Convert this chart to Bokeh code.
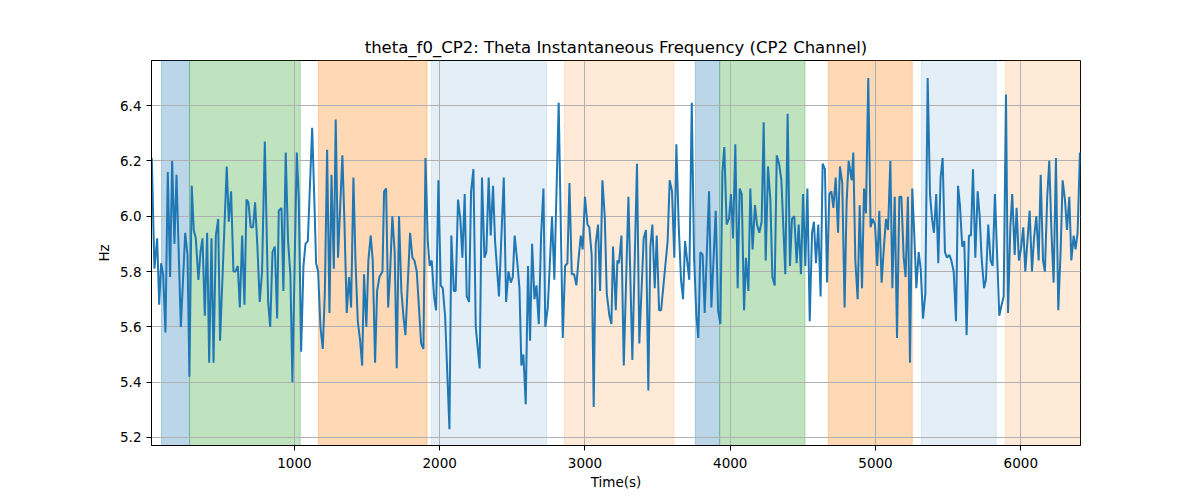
from bokeh.plotting import figure
from bokeh.models import Range1d, FixedTicker, PrintfTickFormatter, BoxAnnotation
from bokeh.embed import file_html
from bokeh.resources import INLINE

# ---- data -----------------------------------------------------------
time_s = [
    18, 36, 55, 69, 82, 96, 112, 128, 144, 158, 174, 188, 218, 248, 264, 277, 293, 307, 321, 339,
    353, 367, 383, 399, 413, 429, 443, 459, 475, 488, 534, 548, 564, 580, 594, 610, 624, 640, 656, 670,
    683, 699, 715, 729, 745, 761, 777, 796,
    819, 833, 849, 865, 881, 892, 911, 924, 940, 956, 972, 986, 1016, 1030, 1046, 1062, 1076, 1092,
    1122, 1138, 1149, 1163, 1179, 1195, 1209, 1225, 1241, 1255, 1271, 1284, 1300, 1330, 1344, 1360,
    1376, 1390, 1406, 1420, 1436, 1452, 1466, 1479, 1495, 1509, 1525, 1539, 1555, 1569, 1585, 1606,
    1617, 1631, 1645, 1658, 1674, 1690, 1704, 1720, 1736, 1750, 1764, 1796, 1812, 1826, 1842, 1872,
    1888, 1902, 1918, 1931, 1945, 1961, 1975, 1991, 2007, 2021, 2037, 2067, 2080, 2097, 2110, 2126,
    2142, 2156, 2172, 2186, 2202, 2216, 2232, 2248, 2275, 2291, 2308, 2321, 2337, 2351, 2367, 2381, 2408,
    2441, 2457, 2473, 2489, 2503, 2516, 2533, 2549, 2562, 2576, 2592, 2608, 2622, 2636, 2652, 2666,
    2682, 2698, 2714, 2727, 2744, 2773, 2789, 2819, 2847, 2863, 2879, 2893, 2909, 2925, 2941, 2955,
    2971, 2984, 3000, 3017, 3030, 3046, 3060, 3074, 3090, 3104, 3120, 3136, 3150, 3168, 3182, 3193, 3212,
    3223, 3234, 3251, 3267, 3299, 3326, 3358, 3374, 3404, 3420, 3436, 3450, 3464, 3480, 3494, 3510,
    3524, 3569, 3583, 3599, 3615, 3629, 3645, 3661, 3675, 3689, 3705, 3718, 3735, 3751, 3767, 3780,
    3794, 3810, 3824, 3854, 3870, 3900, 3916, 3932, 3946, 3959, 3975, 3991, 4005, 4019,
    4035, 4051, 4065, 4079, 4095, 4108, 4125, 4138, 4154, 4170, 4184, 4200, 4216, 4230, 4244, 4260,
    4276, 4290, 4306, 4320, 4336, 4352, 4379, 4395, 4411, 4425, 4441, 4457, 4471, 4487, 4501, 4517,
    4531, 4547, 4563, 4576, 4590, 4606, 4622, 4636, 4652, 4666, 4682, 4696, 4710, 4726, 4742, 4755,
    4771, 4787, 4801, 4815,
    4836, 4847, 4861, 4877, 4891, 4907, 4921, 4934, 4950, 4966, 4980, 4996, 5012, 5026, 5042, 5058,
    5072, 5086, 5102, 5116, 5132, 5148, 5164, 5178, 5194, 5207, 5223, 5237, 5253, 5267, 5281, 5297,
    5311, 5327, 5343, 5359, 5375, 5389, 5402, 5418, 5432, 5448, 5462, 5478, 5492, 5508, 5522, 5538,
    5554, 5568, 5581, 5597, 5611, 5627,
    5643, 5657, 5671, 5687, 5703, 5717, 5730, 5747, 5760, 5776, 5792, 5806, 5822, 5852, 5868, 5882,
    5898, 5912, 5928, 5941, 5958, 5971, 5987, 6001, 6017, 6031, 6047, 6061, 6077, 6091, 6107, 6123,
    6137, 6153, 6166, 6182, 6196, 6212, 6226, 6242, 6258, 6274, 6288, 6304, 6318, 6334, 6348, 6364,
    6377, 6391, 6407,
]

theta_hz = [
    6.21, 5.81, 5.92, 5.68, 5.83, 5.79, 5.58, 6.16, 5.78, 6.20, 5.90, 6.15, 5.60, 5.94, 5.86, 5.42, 6.11, 5.95, 5.92, 5.77,
    5.87, 5.92, 5.64, 5.94, 5.47, 5.92, 5.47, 5.93, 5.99, 5.55, 6.18, 5.98, 6.09, 5.80, 5.80, 5.82, 5.67, 5.93, 5.68, 6.06,
    6.05, 5.96, 5.96, 6.05, 5.89, 5.69, 5.80, 6.27,
    5.69, 5.60, 5.87, 5.89, 5.63, 6.02, 6.03, 5.73, 6.23, 5.91, 5.79, 5.40, 6.23, 6.06, 5.51, 5.82, 5.90, 5.91,
    6.32, 6.04, 5.83, 5.80, 5.60, 5.52, 5.72, 6.24, 5.65, 6.15, 5.81, 6.35, 5.85, 6.22, 5.98, 5.65,
    5.78, 5.67, 6.14, 5.84, 5.62, 5.55, 5.46, 5.79, 5.60, 5.84, 5.93, 5.84, 5.47, 5.73, 5.78, 5.80,
    6.09, 6.10, 5.67, 5.79, 6.00, 5.87, 5.45, 6.00, 5.73, 5.64, 5.57, 5.94, 5.85, 5.84, 5.80, 5.54,
    5.52, 6.21, 5.91, 5.82, 5.84, 5.71, 5.66, 6.13, 5.75, 5.74, 5.64, 5.23, 5.93, 5.73, 5.73, 6.06,
    5.99, 5.85, 6.08, 5.71, 5.69, 6.09, 6.17, 5.60, 5.45, 6.14, 5.85, 5.87, 6.14, 5.93, 6.11, 5.91, 5.71,
    6.14, 5.69, 5.80, 5.76, 5.78, 5.93, 5.84, 5.74, 5.46, 5.50, 5.32, 5.82, 5.55, 5.90, 5.70, 5.75,
    5.61, 5.93, 6.10, 5.60, 5.67, 6.00, 5.77, 6.41, 5.56, 5.82, 5.83, 6.12, 5.79, 5.79, 5.75, 5.84,
    5.93, 5.88, 6.07, 5.97, 5.96, 5.86, 5.31, 5.90, 5.97, 5.73, 6.13, 6.00, 5.72, 5.64, 5.61, 5.89, 5.66,
    5.84, 5.83, 5.93, 5.46, 6.07, 5.48, 6.19, 5.54, 5.92, 5.95, 5.37, 5.89, 5.97, 5.74, 5.93, 5.66,
    5.66, 5.91, 6.13, 6.09, 5.85, 6.26, 5.97, 5.77, 5.70, 5.91, 5.83, 5.77, 6.41, 5.85, 5.64, 5.56,
    5.87, 5.86, 5.65, 6.09, 5.67, 6.02, 5.66, 5.61, 6.16, 6.25, 5.97, 5.99, 6.08, 5.92,
    6.26, 5.74, 6.10, 6.08, 5.66, 5.85, 5.73, 6.10, 5.88, 6.04, 5.97, 5.94, 5.98, 6.34, 5.84, 6.18,
    6.06, 5.78, 5.75, 6.22, 6.19, 6.13, 5.79, 6.37, 5.82, 5.99, 6.00, 5.83, 5.97, 5.79, 6.08, 5.82,
    6.10, 5.62, 5.94, 5.98, 5.83, 5.97, 5.71, 6.19, 6.17, 5.76, 6.08, 6.09, 6.03, 6.14, 5.94, 6.18,
    6.12, 5.67, 6.05, 6.20,
    6.13, 6.23, 5.84, 5.70, 6.04, 5.74, 6.10, 6.01, 6.50, 5.96, 5.99, 5.97, 5.82, 6.02, 5.76, 5.89,
    5.99, 5.95, 6.20, 5.74, 6.07, 5.56, 6.07, 6.07, 5.85, 5.78, 6.07, 5.47, 6.10, 5.93, 5.74, 5.87,
    5.81, 5.63, 5.72, 6.50, 6.08, 5.99, 5.94, 6.08, 5.83, 6.14, 6.21, 5.87, 5.85, 5.86, 5.84, 5.80,
    5.62, 6.11, 6.04, 5.89, 5.91, 5.57,
    5.93, 5.93, 6.17, 5.85, 6.09, 6.00, 5.85, 5.74, 5.77, 5.97, 5.84, 5.82, 6.08, 5.64, 5.68, 5.71,
    6.44, 5.65, 5.96, 6.08, 5.86, 6.03, 5.84, 5.88, 5.96, 5.80, 5.92, 6.02, 5.80, 5.92, 6.00, 5.84,
    6.15, 5.84, 5.80, 6.07, 6.20, 5.93, 5.76, 6.21, 5.66, 5.87, 6.13, 6.06, 5.95, 6.07, 5.84, 5.93,
    5.88, 5.94, 6.23,
]

# shaded intervals (start, end) in seconds, with their colour and opacity
span_start = [85, 278, 1165, 1943, 2858, 3760, 3927, 4675, 5315, 5893]
span_end = [278, 1040, 1913, 2735, 3613, 3927, 4515, 5253, 5831, 6500]
span_color = ["#1f77b4", "#2ca02c", "#ff7f0e", "#1f77b4", "#ff7f0e",
              "#1f77b4", "#2ca02c", "#ff7f0e", "#1f77b4", "#ff7f0e"]
span_alpha = [0.3, 0.3, 0.3, 0.12, 0.16, 0.3, 0.3, 0.3, 0.12, 0.16]

x_ticks = [1000, 2000, 3000, 4000, 5000, 6000]
y_ticks = [5.2, 5.4, 5.6, 5.8, 6.0, 6.2, 6.4]
x_limits = (16, 6411)
y_limits = (5.171, 6.563)

# ---- figure ---------------------------------------------------------
FONT = "DejaVu Sans"

p = figure(
    width=1192, height=492,
    output_backend="svg", toolbar_location=None,
    x_range=Range1d(*x_limits), y_range=Range1d(*y_limits),
    title="theta_f0_CP2: Theta Instantaneous Frequency (CP2 Channel)",
    min_border_left=151, min_border_right=112,
    min_border_top=60, min_border_bottom=47,
)
p.background_fill_color = "white"
p.border_fill_color = "white"
p.outline_line_color = "black"
p.outline_line_width = 1
p.outline_line_alpha = 1

p.title.align = "center"
p.title.text_font = FONT
p.title.text_font_size = "16.5px"
p.title.text_font_style = "normal"
p.title.text_color = "black"
p.title.offset = 0
p.title.standoff = 8

for s, e, c, a in zip(span_start, span_end, span_color, span_alpha):
    p.add_layout(BoxAnnotation(left=s, right=e, fill_color=c, fill_alpha=a,
                               line_color=c, line_alpha=a, line_width=1,
                               level="image"))

p.line(time_s, theta_hz, line_color="#1f77b4", line_width=2)

# axes
p.xaxis.ticker = FixedTicker(ticks=x_ticks)
p.yaxis.ticker = FixedTicker(ticks=y_ticks)
p.xaxis.formatter = PrintfTickFormatter(format="%d")
p.yaxis.formatter = PrintfTickFormatter(format="%.1f")
p.xaxis.axis_label = "Time(s)"
p.yaxis.axis_label = "Hz"
for ax in (p.xaxis[0], p.yaxis[0]):
    ax.axis_line_color = "black"
    ax.axis_line_width = 1
    ax.major_tick_line_color = "black"
    ax.major_tick_in = 0
    ax.major_tick_out = 5
    ax.minor_tick_line_color = None
    ax.major_label_text_font = FONT
    ax.major_label_text_font_size = "13.5px"
    ax.major_label_text_color = "black"
    ax.axis_label_text_font = FONT
    ax.axis_label_text_font_size = "13.5px"
    ax.axis_label_text_font_style = "normal"
    ax.axis_label_text_color = "black"
p.xaxis.major_label_standoff = 7
p.xaxis.axis_label_standoff = 3
p.yaxis.major_label_standoff = 5
p.yaxis.axis_label_standoff = 5

p.grid.grid_line_color = "#b0b0b0"
p.grid.grid_line_width = 1
p.grid.level = "underlay"

open("out.html", "w").write(file_html(p, INLINE))
